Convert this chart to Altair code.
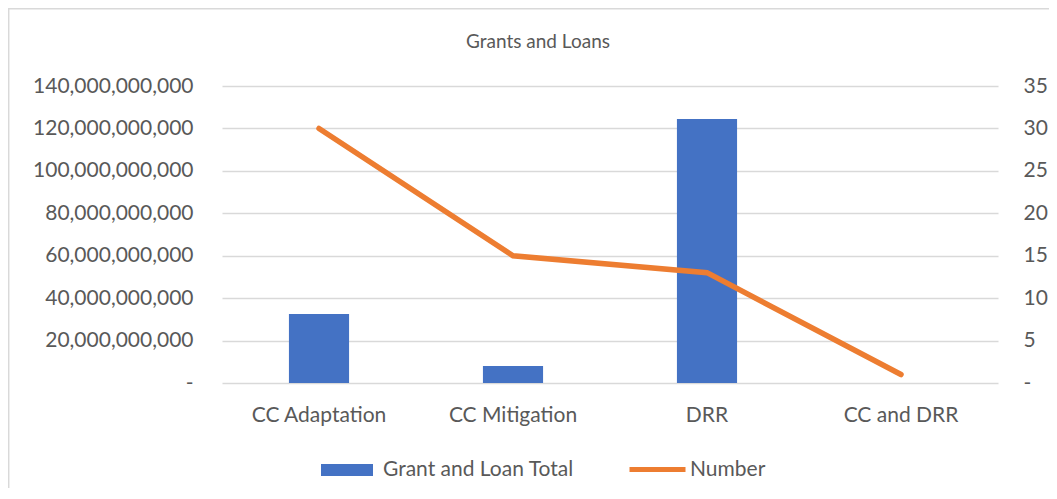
import altair as alt
import pandas as pd

categories = ["CC Adaptation", "CC Mitigation", "DRR", "CC and DRR"]
grant_loan_total = [32.5e9, 8.0e9, 124.4e9, 0.0]
number = [30, 15, 13, 1]

df = pd.DataFrame({"category": categories, "total": grant_loan_total, "number": number})

FONT = "Lato"
GREY = "#595959"
GRID = "#d9d9d9"
BLUE = "#4472C4"
ORANGE = "#ED7D31"

base = alt.Chart(df)
x_enc = alt.X("category:N", sort=categories, title=None,
              scale=alt.Scale(paddingInner=0.69, paddingOuter=0.345),
              axis=alt.Axis(labelAngle=0, labelFontSize=21, labelColor=GREY, labelFont=FONT,
                            ticks=False, tickSize=0, domain=False, grid=False, labelPadding=21))

bars = base.transform_calculate(s1='"Grant and Loan Total"').mark_bar(color=BLUE).encode(
    x=x_enc,
    y=alt.Y("total:Q", title=None,
            scale=alt.Scale(domain=[0, 140e9]),
            axis=alt.Axis(values=[0, 20e9, 40e9, 60e9, 80e9, 100e9, 120e9, 140e9],
                          labelExpr="datum.value == 0 ? '-\u00a0\u00a0' : format(datum.value, ',')",
                          labelFontSize=21, labelColor=GREY, labelFont=FONT,
                          ticks=False, tickSize=0, domain=False, grid=True,
                          gridColor=GRID, gridWidth=1.5, labelPadding=29)),
    fill=alt.Fill("s1:N", scale=alt.Scale(domain=["Grant and Loan Total"], range=[BLUE]),
                  legend=alt.Legend(title=None, orient="none", legendX=99, legendY=358,
                                    symbolType="M-1,-0.23H1V0.23H-1Z", symbolSize=2704,
                                    symbolStrokeWidth=0, labelFontSize=21, labelColor=GREY,
                                    labelFont=FONT, labelOffset=10, labelLimit=500, padding=0)),
)

line = base.transform_calculate(s2='"Number"').mark_line(strokeWidth=5.5, strokeCap="round",
                                                          strokeJoin="miter").encode(
    x=alt.X("category:N", sort=categories),
    y=alt.Y("number:Q", title=None,
            scale=alt.Scale(domain=[0, 35]),
            axis=alt.Axis(orient="right", values=[0, 5, 10, 15, 20, 25, 30, 35],
                          labelExpr="datum.value == 0 ? '-' : format(datum.value, 'd')",
                          labelFontSize=21, labelColor=GREY, labelFont=FONT,
                          ticks=False, tickSize=0, domain=False, grid=False, labelPadding=25)),
    stroke=alt.Stroke("s2:N", scale=alt.Scale(domain=["Number"], range=[ORANGE]),
                      legend=alt.Legend(title=None, orient="none", legendX=405, legendY=353,
                                        symbolType="stroke", symbolSize=3136,
                                        symbolStrokeWidth=5, labelFontSize=21, labelColor=GREY,
                                        labelFont=FONT, labelOffset=2, labelLimit=500, padding=0)),
)

deco = alt.Chart(alt.Data(values=[{}]))
title_txt = deco.mark_text(text="Grants and Loans", font=FONT, fontSize=19, color=GREY,
                           align="center", baseline="middle").encode(
    x=alt.value(316), y=alt.value(-44))
border_top = deco.mark_rule(color=GRID, strokeWidth=1.5).encode(
    x=alt.value(-214), x2=alt.value(827), y=alt.value(-77.3))
border_left = deco.mark_rule(color=GRID, strokeWidth=1.5).encode(
    x=alt.value(-213.3), y=alt.value(-78), y2=alt.value(420))

chart = alt.layer(bars, line, title_txt, border_top, border_left).resolve_scale(
    y="independent"
).properties(
    width=776, height=297,
    autosize=alt.AutoSizeParams(type="none"),
    padding={"left": 214, "top": 78, "right": 51, "bottom": 105},
).configure(background="white").configure_view(strokeWidth=0, stroke="transparent")

chart.save("out.html", embed_options={"renderer": "svg", "actions": False})
